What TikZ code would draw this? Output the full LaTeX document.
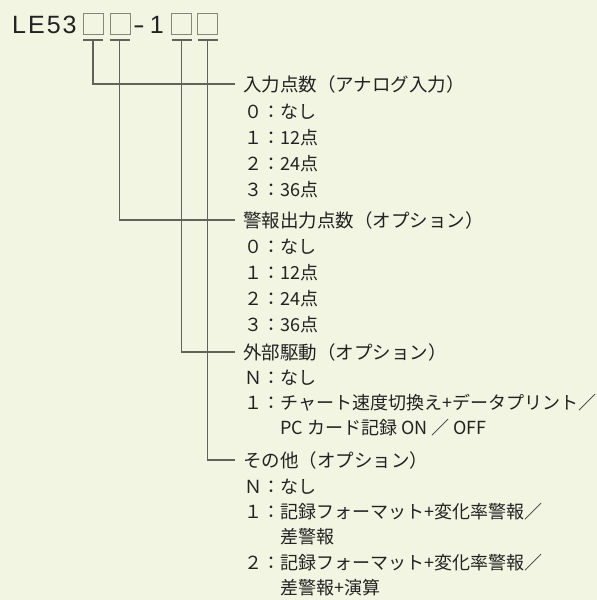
\documentclass[tikz,border=0pt]{standalone}
\usepackage{fontspec}
\setmainfont{Liberation Sans}
\newfontfamily\jp{Noto Sans CJK JP}
\definecolor{bg}{HTML}{F1F5E1}
\definecolor{txt}{HTML}{222222}
\definecolor{ln}{HTML}{62625A}
\definecolor{bx}{HTML}{86867B}
\begin{document}
\begin{tikzpicture}[x=1pt,y=-1pt,
  code/.style={anchor=base west,inner sep=0,text=txt,font=\fontsize{25}{25}\selectfont},
  slot/.style={draw=bx,line width=1.3pt,minimum width=20pt,minimum height=21pt,inner sep=0,anchor=north west},
  tick/.style={draw=ln,line width=1.2pt},
  conn/.style={draw=ln,line width=1.2pt},
  head/.style={anchor=west,inner xsep=8pt,inner ysep=0,text=txt,font=\jp\fontsize{18.5}{18.5}\selectfont},
  item/.style={anchor=west,inner sep=0,text=txt,font=\jp\fontsize{18}{18}\selectfont}]
\fill[bg] (0,0) rectangle (597,600);
\useasboundingbox (0,0) rectangle (597,600);
% model code
\node[code] (le) at (12,33) {L\kern2pt E\kern2pt 5\kern2pt 3};
\node[slot] (b1) at (83,13) {};
\node[slot] (b2) at (109.5,13) {};
\node[code] (d1) at (133,33) {\scalebox{1.4}[1]{-}\kern5pt 1};
\node[slot] (b3) at (170.5,13) {};
\node[slot] (b4) at (197,13) {};
% ticks
\coordinate (t1) at (93,40);
\coordinate (t2) at (119.5,40);
\coordinate (t3) at (181.5,40);
\coordinate (t4) at (207.5,40);
\foreach \t in {t1,t2,t3,t4}{\draw[tick] ([xshift=-10pt]\t) -- ([xshift=10pt]\t);}
% headers
\node[head] (h1) at (235,84) {入力点数（アナログ入力）};
\node[head] (h2) at (235,220) {警報出力点数（オプション）};
\node[head] (h3) at (235,352) {外部駆動（オプション）};
\node[head] (h4) at (235,460) {その他（オプション）};
% connectors
\draw[conn] (t1) |- (h1.west);
\draw[conn] (t2) |- (h2.west);
\draw[conn] (t3) |- (h3.west);
\draw[conn] (t4) |- (h4.west);
% items
\node[item] (a0) at (244,112) {０：なし};
\node[item] (a1) at (244,138) {１：12点};
\node[item] (a2) at (244,164) {２：24点};
\node[item] (a3) at (244,190) {３：36点};
\node[item] (c0) at (244,247) {０：なし};
\node[item] (c1) at (244,273) {１：12点};
\node[item] (c2) at (244,299) {２：24点};
\node[item] (c3) at (244,325) {３：36点};
\node[item] (e0) at (244,378) {Ｎ：なし};
\node[item] (e1) at (244,403) {１：チャート速度切換え+データプリント／};
\node[item] (e2) at (280,428) {PC カード記録 ON ／ OFF};
\node[item] (f0) at (244,487) {Ｎ：なし};
\node[item] (f1) at (244,512) {１：記録フォーマット+変化率警報／};
\node[item] (f2) at (280,537) {差警報};
\node[item] (f3) at (244,563) {２：記録フォーマット+変化率警報／};
\node[item] (f4) at (280,588) {差警報+演算};
\end{tikzpicture}
\end{document}
